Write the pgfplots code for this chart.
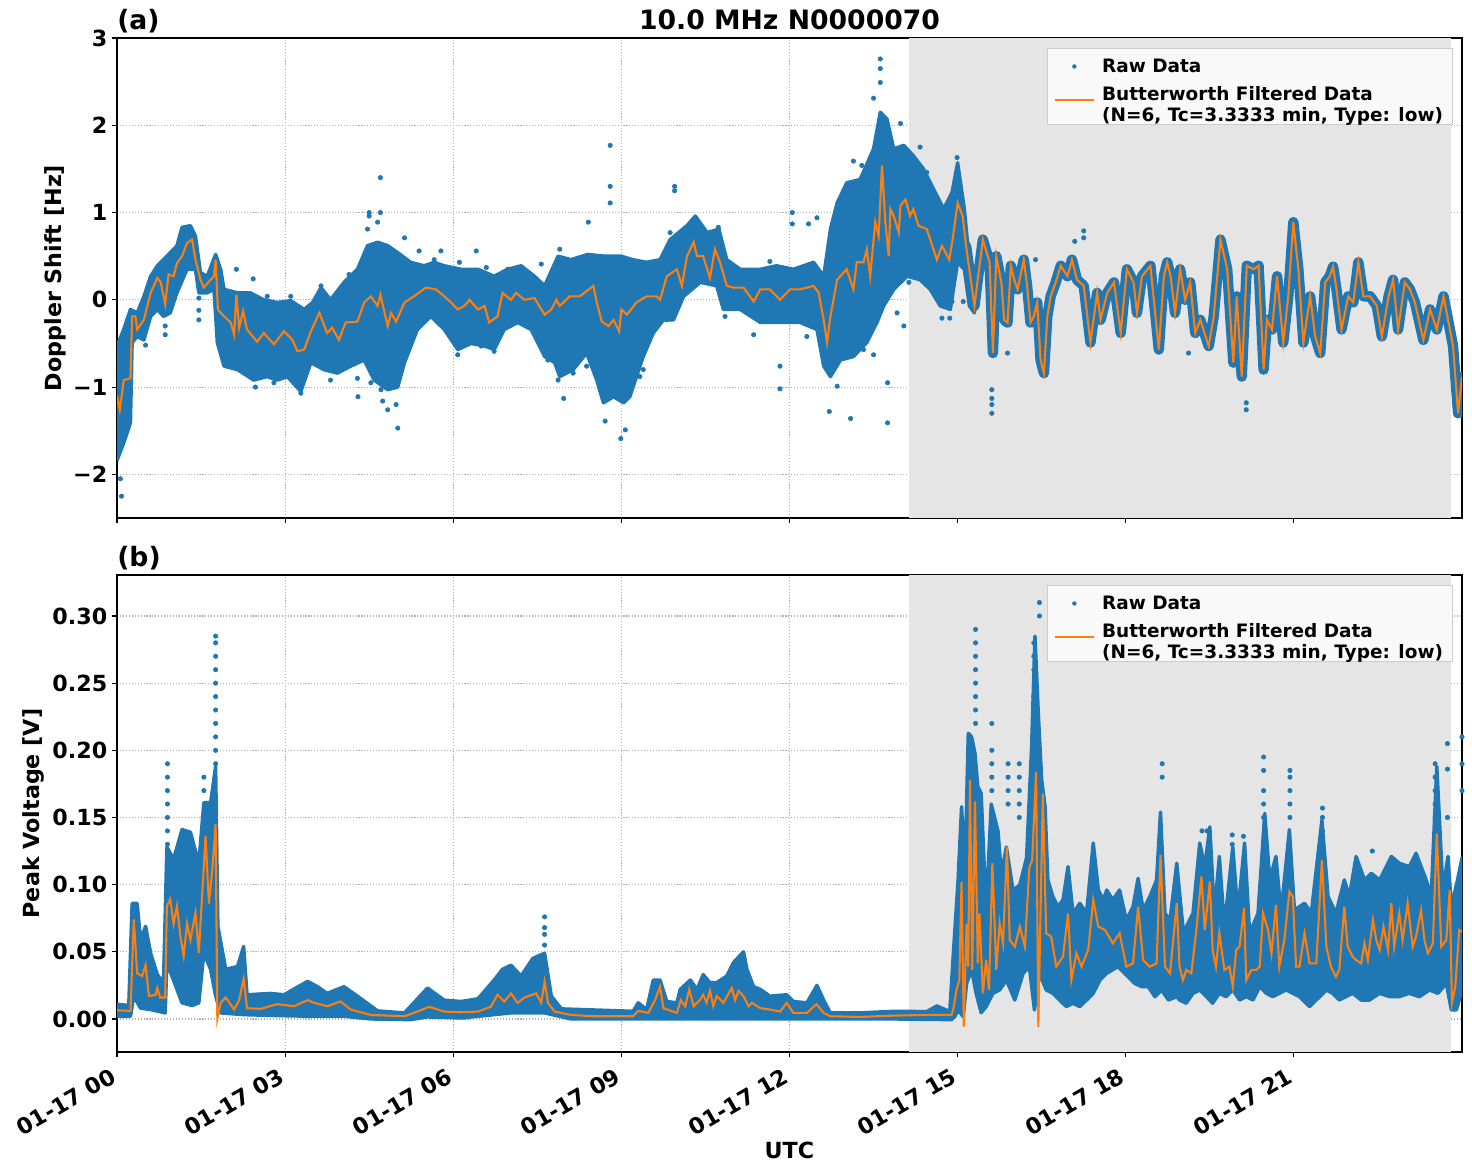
\documentclass[border=0pt]{standalone}
\usepackage{fontspec}
\setmainfont{DejaVu Sans}
\usepackage{pgfplots}
\pgfplotsset{compat=1.18}
\usepackage{pgfplotstable}
\definecolor{mplblue}{HTML}{1F77B4}
\definecolor{mplorange}{HTML}{FF7F0E}
\definecolor{gridc}{HTML}{B0B0B0}

% ---------------- Top panel (Doppler shift) ----------------
\pgfplotstableread{
h v
0.00 -1.10
0.05 -1.26
0.12 -0.92
0.24 -0.90
0.27 -0.19
0.33 -0.19
0.36 -0.34
0.48 -0.23
0.60 0.08
0.72 0.25
0.78 0.20
0.86 -0.05
0.92 0.29
1.01 0.27
1.07 0.42
1.16 0.50
1.25 0.65
1.34 0.69
1.40 0.46
1.49 0.23
1.55 0.14
1.67 0.23
1.73 0.27
1.76 0.46
1.80 -0.11
1.91 -0.19
2.03 -0.26
2.09 -0.40
2.13 0.06
2.18 -0.32
2.25 -0.13
2.32 -0.34
2.50 -0.48
2.62 -0.38
2.80 -0.51
2.98 -0.36
3.13 -0.46
3.22 -0.59
3.34 -0.57
3.46 -0.36
3.61 -0.15
3.75 -0.38
3.84 -0.32
3.96 -0.46
4.08 -0.26
4.29 -0.25
4.41 -0.03
4.53 0.04
4.65 -0.07
4.70 0.06
4.83 -0.30
4.89 -0.15
4.98 -0.25
5.13 -0.03
5.30 0.04
5.51 0.14
5.69 0.12
5.84 0.04
5.96 -0.03
6.08 -0.11
6.20 -0.07
6.29 0.00
6.44 -0.11
6.56 -0.07
6.64 -0.26
6.79 -0.19
6.88 0.08
7.03 0.00
7.12 0.08
7.27 0.00
7.45 0.02
7.63 -0.17
7.75 -0.11
7.84 0.00
7.90 -0.07
8.08 0.04
8.26 0.04
8.50 0.16
8.56 -0.03
8.65 -0.25
8.77 -0.30
8.86 -0.23
8.96 -0.36
9.00 -0.11
9.10 -0.17
9.27 -0.03
9.45 0.04
9.63 0.04
9.69 0.00
9.81 0.27
9.99 0.35
10.08 0.16
10.17 0.50
10.29 0.66
10.35 0.50
10.46 0.50
10.58 0.25
10.67 0.58
10.76 0.43
10.88 0.16
11.00 0.14
11.18 0.14
11.36 -0.02
11.48 0.12
11.65 0.12
11.83 0.00
12.01 0.12
12.19 0.12
12.43 0.16
12.52 0.08
12.61 -0.23
12.67 -0.49
12.73 -0.19
12.85 0.23
13.02 0.35
13.14 0.12
13.20 0.43
13.32 0.43
13.38 0.58
13.44 0.27
13.53 0.89
13.59 0.73
13.65 1.54
13.71 0.89
13.77 0.50
13.80 1.04
13.86 0.96
13.95 0.77
13.98 1.08
14.07 1.15
14.15 0.96
14.21 1.04
14.30 0.85
14.45 0.81
14.63 0.46
14.72 0.62
14.85 0.46
14.91 0.69
15.00 1.11
15.09 0.96
15.15 0.62
15.30 -0.07
15.45 0.69
15.57 0.43
15.63 -0.61
15.69 0.50
15.78 0.20
15.83 -0.23
15.89 -0.26
15.95 0.39
16.01 0.23
16.07 0.12
16.18 0.46
16.24 0.16
16.30 -0.26
16.36 -0.19
16.42 -0.03
16.48 -0.69
16.54 -0.84
16.60 -0.19
16.66 0.04
16.75 0.20
16.84 0.39
16.96 0.27
17.04 0.46
17.13 0.23
17.25 0.16
17.37 -0.49
17.49 0.08
17.55 -0.23
17.67 0.08
17.79 0.20
17.91 -0.38
18.02 0.35
18.14 0.20
18.20 -0.15
18.29 0.27
18.44 0.39
18.59 -0.57
18.68 0.27
18.74 0.43
18.80 0.27
18.88 -0.15
18.97 0.35
19.06 0.00
19.15 0.20
19.24 -0.38
19.33 -0.23
19.48 -0.53
19.57 -0.19
19.69 0.69
19.81 0.35
19.92 -0.72
19.98 0.04
20.07 -0.88
20.16 0.39
20.28 0.35
20.37 0.39
20.46 -0.80
20.52 -0.23
20.61 -0.34
20.70 0.27
20.81 -0.49
20.90 0.04
20.99 0.89
21.08 0.35
21.17 -0.49
21.29 0.04
21.38 -0.42
21.47 -0.61
21.56 0.20
21.64 0.27
21.70 0.38
21.76 0.12
21.85 -0.34
21.97 0.04
22.06 -0.03
22.15 0.43
22.24 0.04
22.36 0.04
22.48 -0.07
22.57 -0.42
22.69 0.04
22.77 0.23
22.86 -0.34
22.98 0.20
23.07 0.12
23.16 -0.03
23.31 -0.46
23.43 -0.11
23.55 -0.34
23.67 0.04
23.76 -0.26
23.84 -0.53
23.93 -1.30
24.00 -0.88
}\topfilt

% band of raw data: upper edge forward, lower edge backward
\pgfplotstableread{
h v
0.00 -0.53
0.12 -0.34
0.24 -0.11
0.36 -0.15
0.48 0.04
0.60 0.27
0.72 0.39
0.89 0.50
1.07 0.62
1.16 0.83
1.31 0.85
1.40 0.73
1.49 0.31
1.61 0.27
1.76 0.52
1.85 0.35
1.91 0.12
2.15 0.08
2.38 0.08
2.62 0.00
2.86 -0.03
3.10 -0.01
3.34 -0.11
3.49 -0.03
3.64 0.14
3.81 0.00
4.05 0.20
4.29 0.35
4.47 0.62
4.65 0.66
4.83 0.62
5.01 0.54
5.24 0.43
5.48 0.39
5.66 0.43
5.84 0.39
6.14 0.35
6.44 0.35
6.73 0.27
6.97 0.35
7.21 0.39
7.45 0.27
7.63 0.16
7.87 0.50
8.10 0.46
8.40 0.52
8.70 0.50
9.00 0.50
9.20 0.46
9.45 0.43
9.69 0.46
9.87 0.69
10.17 0.85
10.32 0.96
10.53 0.77
10.74 0.81
10.88 0.46
11.12 0.35
11.48 0.35
11.77 0.39
12.07 0.35
12.43 0.43
12.61 0.27
12.73 0.81
12.85 1.11
13.02 1.34
13.26 1.38
13.50 1.73
13.62 2.15
13.74 2.07
13.86 1.73
14.04 1.77
14.21 1.65
14.39 1.50
14.57 1.27
14.75 1.04
14.90 1.23
15.00 1.57
15.12 1.04
15.24 0.23
15.33 0.15
15.30 -0.15
15.21 -0.07
15.12 0.35
15.00 0.43
14.87 -0.11
14.69 -0.07
14.51 0.12
14.33 0.23
14.10 0.27
13.86 0.12
13.68 -0.07
13.56 -0.26
13.38 -0.49
13.14 -0.65
12.91 -0.69
12.73 -0.88
12.61 -0.76
12.49 -0.34
12.19 -0.26
11.83 -0.26
11.48 -0.26
11.12 -0.11
10.82 -0.11
10.70 0.16
10.41 0.20
10.11 0.04
9.93 -0.23
9.75 -0.23
9.57 -0.38
9.39 -0.65
9.27 -0.88
9.15 -1.11
9.04 -1.18
8.86 -1.11
8.68 -1.18
8.56 -0.92
8.38 -0.61
8.14 -0.80
7.90 -0.88
7.81 -0.72
7.63 -0.65
7.39 -0.34
7.15 -0.26
6.91 -0.34
6.73 -0.57
6.56 -0.53
6.32 -0.50
6.08 -0.57
5.84 -0.34
5.60 -0.19
5.36 -0.34
5.13 -0.72
5.01 -1.00
4.83 -1.03
4.59 -0.92
4.41 -0.69
4.17 -0.76
3.93 -0.84
3.69 -0.80
3.46 -0.72
3.28 -1.05
3.04 -0.88
2.86 -0.92
2.68 -0.88
2.44 -0.92
2.15 -0.80
1.91 -0.76
1.79 -0.49
1.73 0.12
1.61 0.08
1.46 0.08
1.40 0.35
1.25 0.35
1.07 0.08
0.95 -0.15
0.83 -0.19
0.72 -0.11
0.60 -0.19
0.48 -0.46
0.36 -0.42
0.27 -0.49
0.24 -1.41
0.12 -1.64
0.00 -1.84
}\topband

\pgfplotstableread{
h v
0.06 -2.05
0.08 -2.25
0.51 -0.52
0.86 -0.30
0.86 -0.40
1.46 0.02
1.46 -0.12
1.46 -0.23
2.13 0.35
2.43 0.24
2.47 -1.00
2.80 -0.95
3.28 -1.07
3.81 -0.92
4.29 -0.90
4.53 -0.95
4.71 -1.03
4.98 -1.20
2.68 0.04
3.10 0.04
3.64 0.16
4.14 0.29
4.47 0.81
4.65 0.89
5.13 0.71
5.39 0.56
5.66 0.46
6.11 0.43
6.41 0.56
6.59 0.37
6.97 0.35
7.57 0.41
6.08 -0.63
6.50 -0.53
6.73 -0.59
7.69 -0.69
7.87 -0.92
4.30 -1.11
4.50 1.00
4.50 0.96
4.70 1.40
4.70 1.00
4.74 -1.16
4.83 -1.26
5.01 -1.47
5.78 0.56
7.90 0.58
7.97 -1.13
8.14 -0.84
8.38 -0.76
8.41 0.89
8.80 1.77
8.80 1.30
8.80 1.11
8.71 -1.39
8.99 -1.59
9.07 -1.49
9.33 -0.88
9.39 -0.80
9.81 -0.23
9.87 0.77
9.95 1.30
9.95 1.25
10.46 0.81
10.73 0.83
10.85 -0.19
11.36 -0.40
11.65 0.44
12.31 -0.42
12.34 0.87
12.49 0.94
12.05 1.00
12.05 0.87
11.83 -1.02
11.83 -0.76
12.71 -1.28
12.85 -0.99
12.96 1.11
13.29 1.54
13.32 -0.57
13.50 -0.63
13.92 -0.15
14.13 0.20
14.33 1.75
14.45 1.46
14.72 -0.21
14.90 -0.02
13.09 -1.36
13.14 1.59
13.62 2.76
13.62 2.65
13.62 2.49
13.50 2.31
13.75 -1.41
13.75 -0.95
14.04 -0.30
13.98 2.02
14.99 1.63
15.61 -1.03
15.61 -1.13
15.61 -1.20
15.61 -1.30
15.10 -0.02
14.86 -0.21
17.25 0.79
17.25 0.71
17.09 0.67
20.15 -1.18
20.15 -1.26
16.39 0.46
15.89 -0.61
19.12 -0.61
}\topout

% ---------------- Bottom panel (Peak voltage) ----------------
\pgfplotstableread{
h v
0.00 0.0065
0.24 0.006
0.30 0.074
0.36 0.034
0.45 0.032
0.51 0.040
0.57 0.017
0.69 0.018
0.72 0.023
0.77 0.016
0.86 0.016
0.89 0.084
0.95 0.089
1.01 0.071
1.07 0.084
1.13 0.062
1.19 0.047
1.25 0.071
1.31 0.059
1.40 0.079
1.46 0.049
1.58 0.136
1.64 0.086
1.70 0.111
1.76 0.145
1.79 0.000
1.85 0.012
1.94 0.016
2.09 0.007
2.18 0.014
2.26 0.030
2.32 0.008
2.56 0.0075
2.86 0.011
3.16 0.0095
3.40 0.014
3.52 0.012
3.75 0.0095
3.99 0.013
4.17 0.007
4.53 0.003
5.13 0.002
5.36 0.0055
5.57 0.009
5.84 0.0055
6.14 0.005
6.44 0.0055
6.67 0.009
6.79 0.018
6.91 0.013
7.03 0.019
7.15 0.012
7.27 0.016
7.48 0.019
7.57 0.012
7.63 0.028
7.69 0.012
7.81 0.0055
8.10 0.003
8.50 0.002
9.21 0.002
9.30 0.006
9.48 0.0045
9.60 0.014
9.69 0.024
9.75 0.008
9.99 0.0045
10.06 0.014
10.14 0.0095
10.21 0.022
10.29 0.0095
10.40 0.014
10.46 0.018
10.52 0.012
10.58 0.021
10.64 0.0095
10.70 0.017
10.82 0.012
10.97 0.023
11.03 0.014
11.09 0.021
11.18 0.017
11.27 0.0095
11.33 0.012
11.48 0.008
11.65 0.007
11.83 0.0055
11.95 0.012
12.07 0.0045
12.31 0.0045
12.48 0.011
12.61 0.0045
12.73 0.002
13.26 0.0015
13.86 0.0025
14.45 0.003
14.89 0.003
14.92 0.0067
14.98 0.0216
15.03 0.029
15.07 0.102
15.11 -0.0057
15.16 0.071
15.19 0.039
15.22 0.178
15.26 0.0365
15.31 0.162
15.36 0.0414
15.39 0.0786
15.45 0.0191
15.51 0.0439
15.56 0.0216
15.62 0.116
15.69 0.0365
15.75 0.0712
15.81 0.0563
15.88 0.128
15.93 0.0588
16.02 0.0538
16.11 0.0687
16.20 0.0538
16.28 0.113
16.33 0.118
16.40 0.184
16.44 -0.006
16.52 0.168
16.58 0.0638
16.67 0.0613
16.76 0.0389
16.88 0.0464
16.97 0.0786
17.03 0.029
17.12 0.0489
17.21 0.0389
17.33 0.0514
17.42 0.0886
17.51 0.0687
17.63 0.0662
17.77 0.0563
17.89 0.0638
18.01 0.0389
18.13 0.0414
18.22 0.0836
18.31 0.0439
18.43 0.0389
18.55 0.0414
18.62 0.122
18.70 0.0389
18.79 0.034
18.91 0.0861
18.96 0.0389
19.02 0.029
19.08 0.0365
19.17 0.034
19.26 0.0662
19.35 0.106
19.41 0.0662
19.50 0.1022
19.55 0.0514
19.61 0.0389
19.67 0.0638
19.76 0.0365
19.85 0.0389
19.91 0.0241
19.97 0.0514
20.03 0.0538
20.11 0.0824
20.15 0.029
20.24 0.0365
20.33 0.0365
20.39 0.0389
20.45 0.0786
20.54 0.0662
20.60 0.0489
20.68 0.0849
20.74 0.0389
20.83 0.0588
20.92 0.0948
20.98 0.0911
21.04 0.0389
21.10 0.0389
21.19 0.0638
21.28 0.0414
21.40 0.0414
21.50 0.1184
21.58 0.0538
21.66 0.0389
21.75 0.0315
21.81 0.0365
21.90 0.0836
21.96 0.0538
22.05 0.0464
22.11 0.0439
22.20 0.0414
22.26 0.0563
22.32 0.0439
22.41 0.0737
22.47 0.0588
22.53 0.0514
22.60 0.0687
22.68 0.0514
22.74 0.0861
22.79 0.0538
22.88 0.0786
22.94 0.0588
23.03 0.0861
23.12 0.0538
23.18 0.0613
23.27 0.0811
23.33 0.0588
23.39 0.0489
23.48 0.0563
23.55 0.1382
23.63 0.0538
23.72 0.0588
23.78 0.096
23.82 0.0117
23.88 0.0241
23.95 0.0662
24.00 0.065
}\botfilt

\pgfplotstableread{
h v
0.00 0.011
0.21 0.010
0.27 0.086
0.36 0.086
0.42 0.059
0.51 0.069
0.60 0.049
0.72 0.033
0.83 0.027
0.89 0.128
1.01 0.119
1.16 0.141
1.31 0.139
1.46 0.116
1.55 0.161
1.67 0.161
1.76 0.188
1.80 0.069
1.94 0.037
2.15 0.039
2.26 0.054
2.32 0.018
2.74 0.019
2.98 0.018
3.40 0.028
3.58 0.024
3.75 0.019
4.05 0.024
4.29 0.017
4.65 0.006
5.13 0.0045
5.54 0.023
5.84 0.014
6.14 0.013
6.44 0.015
6.73 0.029
6.88 0.037
7.03 0.040
7.21 0.032
7.42 0.045
7.63 0.049
7.75 0.017
7.93 0.0075
8.30 0.007
9.21 0.0057
9.30 0.012
9.45 0.007
9.57 0.029
9.69 0.029
9.81 0.013
9.99 0.012
10.05 0.022
10.23 0.029
10.35 0.022
10.46 0.033
10.58 0.027
10.70 0.027
10.88 0.032
11.00 0.042
11.18 0.050
11.24 0.037
11.36 0.024
11.48 0.022
11.65 0.017
11.95 0.018
12.07 0.013
12.31 0.012
12.49 0.025
12.61 0.014
12.73 0.0045
13.26 0.0045
13.86 0.0057
14.45 0.0055
14.63 0.0097
14.86 0.0055
14.92 0.0464
15.01 0.1047
15.07 0.158
15.13 0.11
15.19 0.2126
15.25 0.21
15.31 0.1977
15.36 0.173
15.42 0.168
15.48 0.108
15.54 0.108
15.60 0.16
15.66 0.15
15.72 0.14
15.78 0.108
15.87 0.128
15.99 0.0955
16.11 0.100
16.23 0.120
16.32 0.2026
16.38 0.285
16.44 0.227
16.50 0.178
16.56 0.158
16.61 0.1035
16.70 0.091
16.79 0.0836
16.88 0.0886
16.97 0.1134
17.06 0.0786
17.18 0.0861
17.30 0.0786
17.42 0.131
17.51 0.0961
17.60 0.0886
17.66 0.096
17.77 0.0886
17.89 0.096
18.01 0.0737
18.13 0.0836
18.22 0.1047
18.31 0.0811
18.43 0.0911
18.55 0.1035
18.62 0.154
18.70 0.0786
18.79 0.0737
18.91 0.1159
19.03 0.0638
19.08 0.0687
19.20 0.0786
19.32 0.131
19.41 0.1134
19.50 0.143
19.58 0.0786
19.67 0.121
19.76 0.0687
19.91 0.128
20.00 0.0786
20.12 0.131
20.21 0.0638
20.36 0.0786
20.48 0.153
20.57 0.1035
20.68 0.121
20.77 0.0786
20.92 0.141
21.01 0.0811
21.19 0.0861
21.31 0.0786
21.50 0.148
21.61 0.0911
21.75 0.0786
21.90 0.1035
21.99 0.0911
22.11 0.121
22.26 0.1035
22.38 0.1084
22.53 0.1035
22.74 0.121
22.88 0.1159
23.06 0.1134
23.18 0.1234
23.36 0.1035
23.45 0.0911
23.55 0.1879
23.66 0.096
23.75 0.121
23.81 0.0836
23.92 0.1035
24.00 0.12
24.00 0.0216
23.90 0.0067
23.81 0.0067
23.72 0.0265
23.57 0.0191
23.42 0.0216
23.24 0.0166
23.06 0.0191
22.88 0.0166
22.71 0.0166
22.53 0.0191
22.35 0.0141
22.20 0.0141
22.05 0.0191
21.93 0.0166
21.81 0.0141
21.69 0.0191
21.58 0.0216
21.46 0.0166
21.28 0.0092
21.10 0.0166
20.98 0.0191
20.86 0.0216
20.74 0.0191
20.62 0.0166
20.51 0.0191
20.39 0.0241
20.27 0.0141
20.15 0.0166
20.03 0.0141
19.91 0.0216
19.79 0.0166
19.67 0.0191
19.55 0.0117
19.44 0.0166
19.32 0.0216
19.20 0.0191
19.08 0.0117
18.96 0.0141
18.91 0.0166
18.76 0.0141
18.64 0.0216
18.52 0.0166
18.40 0.0241
18.28 0.0241
18.16 0.0265
18.04 0.0315
17.86 0.0389
17.66 0.034
17.54 0.0290
17.42 0.0191
17.30 0.0141
17.18 0.0092
17.06 0.0117
16.94 0.0092
16.82 0.0141
16.70 0.0191
16.58 0.0216
16.46 0.034
16.37 0.0067
16.28 0.0389
16.17 0.0340
16.02 0.0141
15.87 0.0290
15.75 0.0216
15.63 0.0191
15.51 0.0092
15.42 0.0047
15.33 0.0191
15.25 0.0364
15.16 0.0265
15.10 0.0017
15.01 0.0067
14.95 0.0017
14.89 -0.0005
13.86 0.0
12.73 0.0
9.21 0.0
8.10 0.0
7.63 0.0045
7.03 0.0045
6.73 0.0032
6.14 0.0007
5.54 0.0015
5.24 -0.0005
4.53 0.0
4.05 0.002
3.46 0.002
2.86 0.0025
2.26 0.0032
1.85 0.0045
1.76 0.017
1.67 0.037
1.55 0.049
1.46 0.012
1.34 0.010
1.16 0.012
1.07 0.022
0.89 0.042
0.86 0.0045
0.60 0.007
0.42 0.008
0.30 0.017
0.24 0.002
0.00 0.002
}\botband

\pgfplotstableread{
h v
0.90 0.13
0.90 0.14
0.90 0.15
0.90 0.16
0.90 0.17
0.90 0.18
0.90 0.19
1.55 0.17
1.55 0.18
1.76 0.19
1.76 0.20
1.76 0.21
1.76 0.22
1.76 0.23
1.76 0.24
1.76 0.25
1.76 0.26
1.76 0.27
1.76 0.28
1.76 0.285
7.63 0.055
7.63 0.063
7.63 0.068
7.63 0.076
15.32 0.22
15.32 0.23
15.32 0.24
15.32 0.25
15.32 0.26
15.32 0.27
15.32 0.28
15.32 0.29
15.61 0.17
15.61 0.18
15.61 0.19
15.61 0.20
15.61 0.22
15.90 0.16
15.90 0.17
15.90 0.18
15.90 0.19
16.10 0.15
16.10 0.16
16.10 0.17
16.10 0.18
16.10 0.19
16.36 0.22
16.36 0.24
16.36 0.26
16.36 0.27
16.36 0.28
16.46 0.30
16.46 0.31
18.65 0.18
18.65 0.19
19.36 0.14
19.45 0.14
19.90 0.13
19.90 0.137
20.10 0.136
20.46 0.13
20.46 0.15
20.46 0.16
20.46 0.17
20.46 0.185
20.46 0.195
20.93 0.15
20.93 0.16
20.93 0.17
20.93 0.18
20.93 0.185
21.51 0.14
21.51 0.15
21.51 0.157
22.40 0.125
23.52 0.15
23.52 0.16
23.52 0.17
23.52 0.18
23.52 0.19
23.74 0.15
23.74 0.186
23.74 0.205
24.00 0.17
24.00 0.19
24.00 0.21
}\botout

\begin{document}
\begin{tikzpicture}
\path[use as bounding box] (0,0) rectangle (1059.84pt,843.84pt);
\pgfplotsset{
  panel/.style={
    at={(84.24pt,#1)}, anchor=south west, scale only axis, width=968.4pt,
    xmin=0, xmax=24,
    axis line style={line width=0.9pt},
    tick align=outside, xtick pos=left, ytick pos=left, major tick length=3.5pt,
    every tick/.style={line width=0.8pt, black},
    xmajorgrids, ymajorgrids,
    grid style={gridc, line width=0.8pt, dash pattern=on 0.8pt off 1.32pt},
    xtick={0,3,6,9,12,15,18,21},
    tick label style={font=\bfseries\fontsize{16}{19}\selectfont},
    legend style={at={(1,1)}, anchor=north east, xshift=-6.5pt, yshift=-7.2pt,
      draw=black!20, fill=white!97.5!black,
      font=\bfseries\fontsize{13.3}{15.1}\selectfont,
      cells={anchor=west}, row sep=4.5pt, inner xsep=5pt, inner ysep=5.5pt},
  },
  rawimg/.style={legend image code/.code={\path[draw=none, fill=none] (0pt,0pt) -- (32pt,0pt); \fill[mplblue, draw=none] (14pt,0pt) circle (1.6pt);}},
  filtimg/.style={legend image code/.code={\path[draw=none, fill=none] (0pt,0pt) -- (32pt,0pt); \draw[mplorange, line width=1.5pt] (0pt,0pt) -- (28pt,0pt);}},
}
% ---------- (a) ----------
\begin{axis}[panel=470.88pt, height=345.6pt,
  ymin=-2.5, ymax=3,
  ytick={-2,-1,0,1,2,3}, yticklabels={−2,−1,0,1,2,3},
  xticklabels={}]
\addlegendimage{rawimg}
\addlegendentry{Raw Data}
\addlegendimage{filtimg}
\addlegendentry{\begin{tabular}{@{}l@{}}Butterworth Filtered Data\\(N=6, Tc=3.3333 min, Type: low)\rule[-4pt]{0pt}{4pt}\end{tabular}}
\addplot[fill=black!10, draw=none, forget plot]
  coordinates {(14.13,-2.5) (23.80,-2.5) (23.80,3) (14.13,3)};
\addplot[fill=mplblue, draw=mplblue, line width=2.5pt, line join=round, forget plot] table[x=h,y=v] {\topband};
\addplot[mplblue, line width=7.5pt, line join=round, line cap=round, forget plot,
  restrict x to domain=15.1:24.5] table[x=h,y=v] {\topfilt};
\addplot[only marks, mark=*, mark size=1.6pt, mplblue, forget plot] table[x=h,y=v] {\topout};
\addplot[mplorange, line width=1.5pt, forget plot] table[x=h,y=v] {\topfilt};
\end{axis}
% ---------- (b) ----------
\begin{axis}[panel=86.4pt, height=343.44pt,
  ymin=-0.0246, ymax=0.3305,
  ytick={0,0.05,0.10,0.15,0.20,0.25,0.30},
  yticklabels={0.00,0.05,0.10,0.15,0.20,0.25,0.30},
  xticklabels={01-17 00,01-17 03,01-17 06,01-17 09,01-17 12,01-17 15,01-17 18,01-17 21},
  xticklabel style={rotate=30, anchor=north east, xshift=-5pt}]
\addlegendimage{rawimg}
\addlegendentry{Raw Data}
\addlegendimage{filtimg}
\addlegendentry{\begin{tabular}{@{}l@{}}Butterworth Filtered Data\\(N=6, Tc=3.3333 min, Type: low)\rule[-4pt]{0pt}{4pt}\end{tabular}}
\addplot[fill=black!10, draw=none, forget plot]
  coordinates {(14.13,-0.0246) (23.80,-0.0246) (23.80,0.3305) (14.13,0.3305)};
\addplot[fill=mplblue, draw=mplblue, line width=2.5pt, line join=round, forget plot] table[x=h,y=v] {\botband};
\addplot[only marks, mark=*, mark size=1.6pt, mplblue, forget plot] table[x=h,y=v] {\botout};
\addplot[mplorange, line width=1.5pt, forget plot] table[x=h,y=v] {\botfilt};
\end{axis}
% ---------- texts ----------
\node[anchor=base, font=\bfseries\fontsize{19.2}{23}\selectfont] at (568.44pt,822.24pt) {10.0 MHz N0000070};
\node[anchor=base west, inner sep=0pt, font=\bfseries\fontsize{19.2}{23}\selectfont] at (84.24pt,822.24pt) {(a)};
\node[anchor=base west, inner sep=0pt, font=\bfseries\fontsize{19.2}{23}\selectfont] at (84.24pt,435.6pt) {(b)};
\node[rotate=90, font=\bfseries\fontsize{16}{19}\selectfont] at (39.6pt,643.7pt) {Doppler Shift [Hz]};
\node[rotate=90, font=\bfseries\fontsize{16}{19}\selectfont] at (23.8pt,258.1pt) {Peak Voltage [V]};
\node[font=\bfseries\fontsize{16}{19}\selectfont] at (568.4pt,15.84pt) {UTC};
\end{tikzpicture}
\end{document}
